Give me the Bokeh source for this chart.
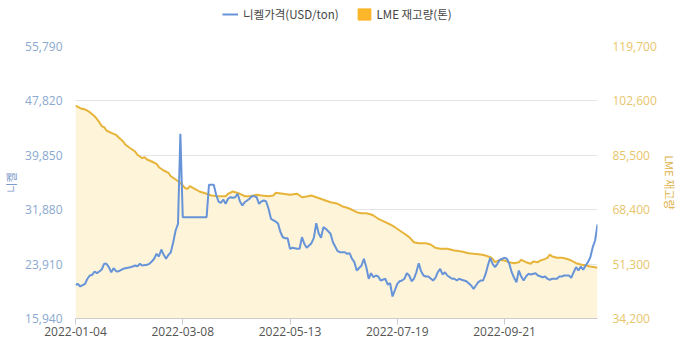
from bokeh.plotting import figure
from bokeh.layouts import column
from bokeh.models import (Range1d, LinearAxis, FixedTicker, NumeralTickFormatter,
                          Legend, LegendItem, ColumnDataSource)
from bokeh.embed import file_html
from bokeh.resources import INLINE

# ---- data (trading-day index, value) ----
tick_idx = [0, 45, 90, 135, 180]
tick_labels = ["2022-01-04", "2022-03-08", "2022-05-13", "2022-07-19", "2022-09-21"]

left_ticks = [15940, 23910, 31880, 39850, 47820, 55790]
right_ticks = [34200, 51300, 68400, 85500, 102600, 119700]

nickel_idx = [0, 1, 2, 4, 5, 6, 7, 8, 9, 10, 11, 12, 13, 14, 15, 16, 17, 18, 20, 21,
              23, 24, 25, 26, 27, 28, 30, 31, 32, 33, 34, 35, 36, 37, 38, 39, 40, 41, 42, 43,
              44, 45, 55, 56, 58, 59, 60, 61, 62, 63, 64, 65, 66, 67, 68, 69, 70, 71, 73, 74,
              75, 76, 77, 78, 79, 80, 81, 82, 84, 85, 86, 87, 88, 89, 90, 91, 93, 94, 95, 96,
              97, 99, 100, 101, 102, 103, 104, 105, 107, 108, 110, 111, 113, 114, 115, 116, 117, 118, 120, 121,
              122, 123, 124, 125, 126, 127, 128, 130, 131, 132, 133, 135, 136, 137, 138, 139, 140, 141, 142, 143,
              144, 145, 146, 147, 148, 150, 151, 152, 153, 154, 155, 156, 157, 158, 159, 160, 161, 162, 163, 164,
              166, 167, 168, 169, 170, 171, 172, 173, 174, 175, 176, 177, 178, 179, 180, 181, 182, 183, 184, 185,
              186, 187, 188, 189, 190, 191, 193, 194, 196, 197, 198, 199, 200, 202, 203, 204, 205, 207, 208, 209,
              210, 211, 212, 213, 214, 215, 216, 217, 218, 219]
nickel_price = [20880, 21020, 20630, 21020, 21760, 22240, 22340, 22830, 22580, 22830, 23120, 23950, 23950, 23460, 22720, 23310, 22870, 22830, 23220, 23310,
                23460, 23560, 23700, 23600, 23950, 23700, 23810, 23950, 24290, 24690, 25420, 25020, 26050, 25270, 24690, 25270, 25650, 27120, 28830, 29810,
                42995, 30780, 30780, 35530, 35530, 34060, 33080, 32890, 33370, 32740, 33480, 33710, 33620, 33710, 34210, 33080, 32490, 32980, 33480, 33860,
                33860, 33710, 32740, 33080, 33230, 33080, 32010, 30550, 30150, 29810, 28580, 27850, 27700, 27700, 26150, 26300, 26150, 26150, 27850, 26880,
                26300, 26970, 27760, 29900, 28440, 27760, 29320, 29080, 28350, 27120, 25800, 25650, 25650, 25420, 25510, 24690, 24190, 22970, 23700, 24690,
                23460, 21760, 22580, 21990, 22240, 22090, 21510, 21760, 20920, 21110, 19160, 21020, 21400, 21510, 21760, 22580, 22240, 21400, 21760, 22720,
                24040, 22870, 22240, 22090, 22090, 21510, 21900, 22720, 23220, 22390, 22720, 22240, 21990, 21760, 21760, 21510, 21760, 21610, 21510, 21400,
                20770, 20290, 20770, 21260, 21510, 21510, 22390, 23700, 24830, 23950, 23460, 23950, 24540, 24690, 24830, 24690, 23950, 22720, 21900, 21260,
                22970, 22090, 21510, 22090, 22490, 22390, 22580, 22240, 21990, 22090, 21760, 21610, 21760, 21760, 22090, 22090, 22240, 22240, 21900, 22720,
                23460, 22970, 23560, 23080, 23700, 24190, 24920, 26390, 27370, 29710]

stock_idx = [0, 2, 4, 6, 8, 10, 11, 12, 13, 15, 17, 18, 20, 21, 23, 25, 26, 28, 29, 30,
             32, 34, 35, 37, 39, 40, 42, 44, 45, 46, 47, 48, 50, 52, 55, 57, 60, 63, 64, 66,
             69, 71, 73, 76, 78, 81, 83, 84, 87, 90, 93, 95, 97, 99, 101, 104, 107, 110, 112, 114,
             116, 118, 120, 122, 124, 125, 127, 130, 132, 134, 136, 138, 140, 142, 144, 147, 149, 151, 153, 156,
             159, 162, 165, 167, 170, 172, 174, 175, 176, 178, 180, 182, 184, 186, 187, 189, 191, 192, 194, 195,
             196, 198, 199, 200, 202, 204, 206, 208, 210, 212, 214, 216, 218, 219]
stock_tons = [101150, 100310, 99900, 99050, 97790, 95900, 94650, 94330, 93300, 92570, 91940, 91190, 89840, 88800, 87730, 86700, 85660, 84590, 84900, 84180,
              83550, 82830, 81760, 80720, 80000, 78930, 77890, 76860, 76010, 75160, 74970, 75790, 74970, 74120, 73400, 72860, 72640, 72640, 73400, 74120,
              73400, 72640, 72640, 73080, 72860, 72640, 72860, 73710, 73400, 73080, 73400, 72330, 72550, 72860, 72330, 71510, 70760, 70260, 69410, 69000,
              68370, 67610, 67300, 67300, 66890, 66580, 65540, 64470, 63750, 62900, 61860, 60830, 59760, 58180, 57870, 57870, 57460, 56420, 56110, 56110,
              55580, 55260, 54730, 54540, 54320, 54000, 53470, 52970, 51900, 52650, 52430, 51900, 51580, 51900, 52650, 51900, 51390, 52120, 51900, 52430,
              52650, 53280, 54320, 53690, 53280, 53280, 52970, 52430, 51580, 51170, 50860, 50550, 50330, 50140]

series_names = ["니켈가격(USD/ton)", "LME 재고량(톤)"]

FONT = "Noto Sans CJK KR"
NUMFONT = "Open Sans"
BLUE = "#6794D8"
GOLD = "#E7B43A"
FILL = "#FEF4DA"
SQUARE = "#FCB62A"

# ---------------- legend strip ----------------
lg = figure(width=680, height=36, output_backend="svg", toolbar_location=None,
            x_range=Range1d(0, 1), y_range=Range1d(0, 1),
            min_border=0, min_border_left=0, min_border_right=0,
            min_border_top=0, min_border_bottom=0)
lg.axis.visible = False
lg.grid.visible = False
lg.outline_line_color = None
lg_line = lg.line(x=[5, 6], y=[5, 6], line_color=BLUE, line_width=2)
lg_sq = lg.quad(left=[5], right=[6], top=[6], bottom=[5], fill_color=SQUARE, line_color=SQUARE)
legend = Legend(items=[LegendItem(label=series_names[0], renderers=[lg_line]),
                       LegendItem(label=series_names[1], renderers=[lg_sq])],
                orientation="horizontal", location=(147, 12),
                label_text_font=FONT, label_text_font_size="11.5px", label_text_color="#444444",
                glyph_width=16, glyph_height=14, label_height=20, label_standoff=5,
                spacing=17, padding=0, margin=0,
                border_line_color=None, background_fill_alpha=0)
lg.add_layout(legend, "center")

# ---------------- main chart ----------------
p = figure(width=680, height=316, output_backend="svg", toolbar_location=None,
           x_range=Range1d(0, 219), y_range=Range1d(left_ticks[0], left_ticks[-1]),
           min_border_left=75, min_border_right=83, min_border_top=10, min_border_bottom=34)
p.extra_y_ranges = {"stock": Range1d(right_ticks[0], right_ticks[-1])}
p.outline_line_color = None
p.background_fill_color = "white"
p.border_fill_color = "white"

src_s = ColumnDataSource(dict(x=stock_idx, y=stock_tons))
src_n = ColumnDataSource(dict(x=nickel_idx, y=nickel_price))

p.varea(x="x", y1=right_ticks[0], y2="y", source=src_s, y_range_name="stock",
        fill_color=FILL, fill_alpha=1.0)
p.line("x", "y", source=src_s, y_range_name="stock", line_color=GOLD, line_width=2)
p.line("x", "y", source=src_n, line_color=BLUE, line_width=2)

# grid
p.xgrid.visible = False
p.ygrid.ticker = FixedTicker(ticks=left_ticks)
p.ygrid.grid_line_color = "#E4E4E4"
p.ygrid.grid_line_width = 1

# x axis
xa = p.xaxis[0]
xa.ticker = FixedTicker(ticks=tick_idx)
xa.major_label_overrides = {i: s for i, s in zip(tick_idx, tick_labels)}
xa.axis_line_color = "#CCCCCC"
xa.major_tick_line_color = "#CCCCCC"
xa.major_tick_out = 6
xa.major_tick_in = 0
xa.minor_tick_line_color = None
xa.minor_tick_out = 0
xa.major_label_orientation = "horizontal"
xa.major_label_text_font = NUMFONT
xa.major_label_text_font_size = "12px"
xa.major_label_text_color = "#555555"
xa.major_label_standoff = 2


def style_y(ax, color, standoff):
    ax.axis_line_color = None
    ax.major_tick_line_color = None
    ax.minor_tick_line_color = None
    ax.major_tick_out = 0
    ax.major_tick_in = 0
    ax.minor_tick_out = 0
    ax.minor_tick_in = 0
    ax.major_label_standoff = standoff
    ax.major_label_text_font = NUMFONT
    ax.major_label_text_font_size = "12px"
    ax.major_label_text_color = color
    ax.axis_label_text_font = FONT
    ax.axis_label_text_font_size = "11px"
    ax.axis_label_text_font_style = "normal"


# left axis
ya = p.yaxis[0]
ya.ticker = FixedTicker(ticks=left_ticks)
ya.formatter = NumeralTickFormatter(format="0,0")
style_y(ya, "#8BA8D0", 13)
ya.axis_label = "니켈"
ya.axis_label_text_color = "#7C9CC8"
ya.axis_label_standoff = 3

# right axis
ra = LinearAxis(y_range_name="stock", ticker=FixedTicker(ticks=right_ticks),
                formatter=NumeralTickFormatter(format="0,0"))
style_y(ra, "#E8C56C", 15)
ra.axis_label = "LME 재고량"
ra.axis_label_text_color = "#DDB24A"
ra.axis_label_standoff = 2
p.add_layout(ra, "right")

layout = column(lg, p, spacing=0)
open("out.html", "w").write(file_html(layout, INLINE))
